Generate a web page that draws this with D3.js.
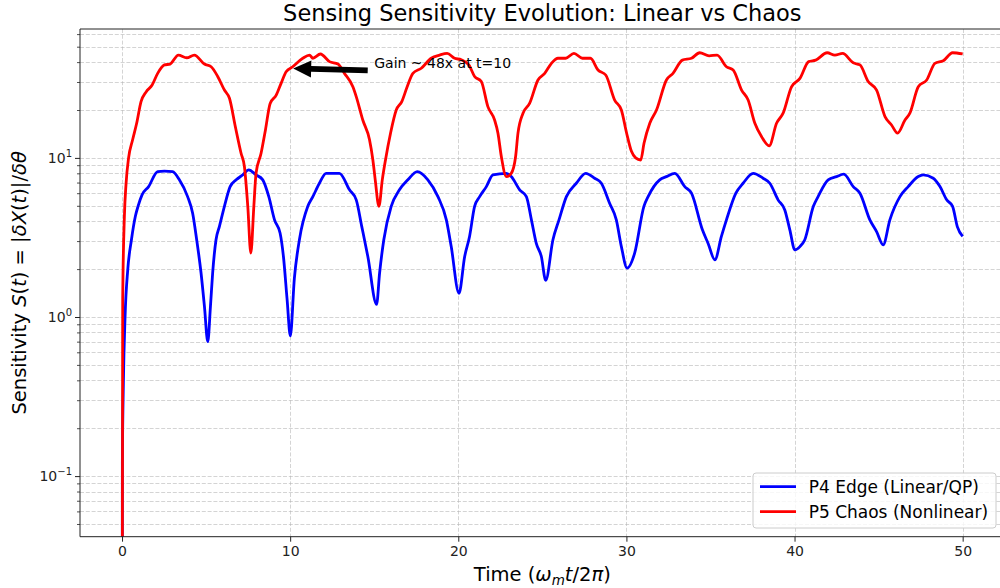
<!DOCTYPE html>
<html>
<head>
<meta charset="utf-8">
<script src="https://cdn.jsdelivr.net/npm/d3@7"></script>
<style>
  body { margin: 0; background: #fff; }
  svg { font-family: "DejaVu Sans", sans-serif; display: block; }
</style>
</head>
<body>
<svg id="chart"></svg>
<script>
// values
const timeP4 = [0, 0.02, 0.08, 0.18, 0.34, 0.56, 0.79, 0.95, 1.19, 1.58, 2.12, 2.52, 3.01, 3.41, 3.9, 4.2, 4.44, 4.7, 4.9, 5.1,
  5.26, 5.39, 5.59, 5.79, 6.09, 6.43, 6.79, 7.18, 7.54, 7.97, 8.37, 8.73, 9.07, 9.4, 9.6, 9.82, 10.01, 10.25, 10.55, 11.05,
  11.35, 11.74, 12.14, 12.93, 13.53, 13.93, 14.26, 14.62, 15.14, 15.32, 15.57, 16.01, 16.5, 17.0, 17.56, 18.19, 18.79, 19.29, 19.58, 20.04,
  20.38, 20.67, 20.97, 21.27, 21.67, 22.06, 22.86, 23.15, 23.65, 24.05, 24.35, 24.64, 24.94, 25.2, 25.63, 25.99, 26.43, 27.02, 27.58, 28.11,
  28.51, 29.0, 29.4, 29.7, 30.04, 30.49, 31.04, 31.29, 31.98, 32.38, 32.88, 33.47, 33.87, 34.52, 34.86, 35.26, 35.65, 35.95, 36.51, 36.94,
  37.54, 38.13, 38.53, 39.02, 39.42, 39.72, 40.02, 40.32, 40.61, 41.12, 41.4, 42.0, 42.5, 42.93, 43.49, 43.89, 44.48, 44.88, 45.27, 45.67,
  46.27, 46.76, 47.36, 47.65, 48.25, 48.65, 49.05, 49.4, 49.68, 50.0];
const sensP4 = [0.001, 0.12, 0.385, 1.0, 1.98, 3.06, 4.28, 4.96, 5.86, 6.6, 8.2, 8.25, 8.2, 7.28, 5.71, 4.49, 3.06, 1.89, 1.17, 0.70,
  1.17, 1.89, 3.06, 3.7, 4.96, 6.6, 7.28, 7.82, 8.41, 7.82, 7.28, 5.71, 4.08, 3.37, 2.4, 1.28, 0.76, 1.75, 3.06, 4.96,
  5.71, 6.93, 8.0, 8.0, 6.3, 5.45, 3.7, 2.4, 1.2, 1.89, 3.06, 4.96, 6.3, 7.28, 8.2, 7.28, 5.71, 4.08, 2.77, 1.41,
  2.4, 3.21, 4.96, 5.71, 6.6, 7.82, 8.0, 7.63, 6.3, 5.71, 4.08, 2.9, 2.4, 1.7, 3.06, 4.08, 5.71, 6.93, 8.0, 7.45,
  6.93, 5.19, 4.08, 2.77, 2.03, 2.52, 4.96, 5.71, 7.28, 7.63, 8.0, 6.6, 6.0, 3.53, 2.9, 2.29, 3.21, 4.08, 6.0, 6.93,
  8.0, 7.45, 6.93, 5.45, 4.71, 3.53, 2.64, 2.77, 3.06, 4.96, 5.71, 7.28, 7.63, 7.9, 6.6, 6.0, 4.08, 3.44, 2.84, 4.08,
  5.71, 6.6, 7.63, 7.82, 7.45, 6.6, 5.45, 4.96, 3.7, 3.21];

const timeP5 = [0, 0.04, 0.14, 0.24, 0.39, 0.63, 0.87, 1.13, 1.43, 1.79, 2.12, 2.52, 2.86, 3.35, 3.85, 4.3, 4.9, 5.3, 5.69, 6.09,
  6.39, 6.74, 7.08, 7.28, 7.48, 7.66, 7.84, 7.97, 8.27, 8.53, 8.81, 9.17, 9.46, 9.76, 10.15, 10.75, 11.15, 11.35, 11.8, 12.34,
  12.84, 13.23, 13.73, 13.93, 14.32, 14.72, 14.92, 15.06, 15.28, 15.48, 15.67, 15.97, 16.31, 16.64, 16.96, 17.3, 17.8, 18.39, 18.89, 19.34,
  19.78, 20.18, 20.63, 20.97, 21.37, 21.76, 22.16, 22.36, 22.56, 22.86, 23.15, 23.41, 23.55, 23.85, 24.24, 24.74, 25.14, 25.54, 25.93, 26.39,
  26.88, 27.38, 27.86, 28.31, 28.77, 29.3, 29.7, 30.0, 30.3, 30.55, 30.85, 31.05, 31.39, 31.79, 32.38, 32.77, 33.33, 33.87, 34.36, 34.92,
  35.39, 35.95, 36.35, 36.85, 37.24, 37.64, 38.04, 38.49, 38.93, 39.32, 39.82, 40.32, 40.84, 41.26, 41.94, 42.4, 42.86, 43.49, 43.89, 44.38,
  44.88, 45.38, 45.77, 46.13, 46.57, 46.86, 47.36, 47.86, 48.35, 48.85, 49.4, 50.0];
const sensP5 = [0.001, 1.3, 4.28, 6.9, 10.0, 13.0, 16.5, 22.6, 26.0, 28.7, 34.0, 38.4, 38.9, 44.3, 42.6, 44.3, 38.9, 37.4, 32.5, 26.7,
  23.7, 15.7, 10.7, 8.8, 4.96, 2.52, 4.96, 8.0, 10.7, 15.0, 22.0, 24.8, 29.4, 34.8, 37.4, 42.3, 44.3, 42.3, 45.0, 40.3,
  38.9, 34.0, 28.0, 24.3, 17.3, 13.0, 9.71, 7.28, 4.96, 7.28, 9.71, 14.3, 20.0, 22.6, 28.0, 34.0, 36.6, 42.3, 44.3, 45.4,
  42.3, 41.4, 38.4, 32.5, 30.2, 21.0, 17.3, 14.3, 10.2, 7.63, 8.0, 10.2, 14.3, 19.1, 22.0, 30.9, 34.0, 39.3, 42.3, 42.3,
  45.4, 42.3, 42.3, 35.7, 33.2, 23.1, 20.0, 14.5, 11.0, 10.0, 9.7, 12.4, 16.5, 20.0, 30.9, 34.0, 41.2, 42.3, 45.8, 43.8,
  44.3, 37.4, 35.7, 26.7, 23.1, 16.5, 13.6, 11.9, 16.5, 19.1, 28.0, 31.6, 40.3, 41.2, 45.8, 44.3, 45.4, 39.6, 38.4, 30.2,
  26.7, 18.2, 16.1, 14.3, 17.3, 19.1, 28.0, 30.9, 39.3, 40.8, 45.8, 45.0];

const xTicks = [0, 10, 20, 30, 40, 50];
const yMajor = [0.1, 1, 10];
const yMinor = [0.05, 0.06, 0.07, 0.08, 0.09, 0.2, 0.3, 0.4, 0.5, 0.6, 0.7, 0.8, 0.9,
  2, 3, 4, 5, 6, 7, 8, 9, 20, 30, 40, 50, 60];
const seriesNames = ["P4 Edge (Linear/QP)", "P5 Chaos (Nonlinear)"];
const seriesColors = ["#0000ff", "#ff0000"];
const annoPoint = [10, 36.5];
const annoText = [15, 36.8];
const annoLabel = "Gain ~ 48x at t=10";

const width = 1000, height = 588;
const plotLeft = 80, plotRight = 1004.7, plotTop = 29, plotBottom = 536.7;

const svg = d3.select("#chart").attr("width", width).attr("height", height);

const x = d3.scaleLinear().domain([-2.5, 52.5]).range([plotLeft, plotRight]);
const y = d3.scaleLog().domain([0.0416, 64.6]).range([plotBottom, plotTop]);

svg.append("defs").append("clipPath").attr("id", "plotclip")
  .append("rect").attr("x", plotLeft).attr("y", plotTop)
  .attr("width", plotRight - plotLeft).attr("height", plotBottom - plotTop);

// grid
const grid = svg.append("g").attr("stroke", "#b0b0b0").attr("stroke-opacity", 0.55)
  .attr("stroke-width", 1).attr("stroke-dasharray", "4,1.8");
grid.selectAll(".gy").data(yMajor.concat(yMinor)).join("line")
  .attr("x1", plotLeft).attr("x2", plotRight)
  .attr("y1", d => Math.round(y(d)) + 0.5).attr("y2", d => Math.round(y(d)) + 0.5);
grid.selectAll(".gx").data(xTicks).join("line")
  .attr("y1", plotTop).attr("y2", plotBottom)
  .attr("x1", d => Math.round(x(d)) + 0.5).attr("x2", d => Math.round(x(d)) + 0.5);

// curves
const line = d3.line().x(d => x(d[0])).y(d => y(d[1])).curve(d3.curveMonotoneX);
const series = [d3.zip(timeP4, sensP4), d3.zip(timeP5, sensP5)];
svg.append("g").attr("clip-path", "url(#plotclip)")
  .selectAll("path").data(series).join("path")
  .attr("d", line)
  .attr("fill", "none")
  .attr("stroke", (d, i) => seriesColors[i])
  .attr("stroke-width", 2.8)
  .attr("stroke-linejoin", "round");

// spines
svg.append("g").attr("stroke", "#222").attr("stroke-width", 1).attr("fill", "none")
  .call(g => g.append("line").attr("x1", plotLeft).attr("x2", plotLeft).attr("y1", plotTop).attr("y2", plotBottom))
  .call(g => g.append("line").attr("x1", plotLeft).attr("x2", plotRight).attr("y1", plotBottom).attr("y2", plotBottom))
  .call(g => g.append("line").attr("x1", plotLeft).attr("x2", plotRight).attr("y1", plotTop).attr("y2", plotTop));

// ticks
const xAxis = svg.append("g").attr("transform", `translate(0,${plotBottom})`)
  .call(d3.axisBottom(x).tickValues(xTicks).tickSize(5).tickPadding(4).tickFormat(d3.format("d")));
xAxis.select(".domain").remove();
xAxis.selectAll("text").attr("font-size", 14).attr("font-family", "DejaVu Sans").attr("fill", "#222");
xAxis.selectAll("line").attr("stroke", "#222");

const yAxis = svg.append("g").attr("transform", `translate(${plotLeft},0)`)
  .call(d3.axisLeft(y).tickValues(yMajor).tickSize(5).tickFormat(""));
yAxis.select(".domain").remove();
yAxis.selectAll("line").attr("stroke", "#222");
const yAxisMinor = svg.append("g").attr("transform", `translate(${plotLeft},0)`)
  .call(d3.axisLeft(y).tickValues(yMinor).tickSize(3).tickFormat(""));
yAxisMinor.select(".domain").remove();
yAxisMinor.selectAll("line").attr("stroke", "#222").attr("stroke-width", 0.8);

svg.append("g").attr("text-anchor", "end").attr("fill", "#222")
  .selectAll("text").data(yMajor).join("text")
  .attr("x", plotLeft - 8).attr("y", d => y(d) + 5)
  .attr("font-size", 14)
  .each(function (d) {
    const t = d3.select(this);
    t.append("tspan").text("10");
    t.append("tspan").attr("font-size", 10).attr("dy", -6)
      .text(String(Math.round(Math.log10(d))).replace("-", "\u2212"));
  });

// labels
svg.append("text").attr("x", (plotLeft + plotRight) / 2).attr("y", 20.5)
  .attr("text-anchor", "middle").attr("font-size", 22.5).text("Sensing Sensitivity Evolution: Linear vs Chaos");

const xl = svg.append("text").attr("x", (plotLeft + plotRight) / 2).attr("y", 581)
  .attr("text-anchor", "middle").attr("font-size", 19.5);
xl.append("tspan").text("Time (");
xl.append("tspan").attr("font-style", "italic").text("\u03c9");
xl.append("tspan").attr("font-style", "italic").attr("font-size", 13.5).attr("dy", 3.5).text("m");
xl.append("tspan").attr("font-style", "italic").attr("dy", -3.5).text("t");
xl.append("tspan").text("/2");
xl.append("tspan").attr("font-style", "italic").text("\u03c0");
xl.append("tspan").text(")");

const yl = svg.append("text").attr("transform", `translate(25.5,${(plotTop + plotBottom) / 2}) rotate(-90)`)
  .attr("text-anchor", "middle").attr("font-size", 19.5);
[["Sensitivity ", false], ["S", true], ["(", false], ["t", true], [") = |", false], ["\u03b4X", true],
 ["(", false], ["t", true], [")|/", false], ["\u03b4\u03b8", true]]
  .forEach(([s, it]) => yl.append("tspan").attr("font-style", it ? "italic" : null).text(s));

// annotation arrow
const tip = [x(annoPoint[0]) + 3, y(annoPoint[1])];
const tx = x(annoText[0]), ty = y(annoText[1]);
const tail = [tx - 6.5, ty + 2.5];
const len = Math.hypot(tail[0] - tip[0], tail[1] - tip[1]);
const u = [(tip[0] - tail[0]) / len, (tip[1] - tail[1]) / len];
const n = [-u[1], u[0]];
const hl = 18, hw = 8.5, sw = 2.9;
const base = [tip[0] - u[0] * hl, tip[1] - u[1] * hl];
const pt = (p, k) => [p[0] + n[0] * k, p[1] + n[1] * k];
svg.append("polygon").attr("fill", "#000")
  .attr("points", [pt(tail, sw), pt(base, sw), pt(base, hw), tip, pt(base, -hw), pt(base, -sw), pt(tail, -sw)]
    .map(p => p.join(",")).join(" "));
svg.append("text").attr("x", tx).attr("y", ty).attr("font-size", 14).text(annoLabel);

// legend
const lg = svg.append("g").attr("transform", "translate(753,473)");
lg.append("rect").attr("width", 243).attr("height", 55).attr("rx", 3)
  .attr("fill", "#fff").attr("fill-opacity", 0.8).attr("stroke", "#cccccc");
seriesNames.forEach((name, i) => {
  const yy = 13.7 + i * 25;
  lg.append("line").attr("x1", 7).attr("x2", 43).attr("y1", yy).attr("y2", yy)
    .attr("stroke", seriesColors[i]).attr("stroke-width", 2.8);
  lg.append("text").attr("x", 55.7).attr("y", yy + 6).attr("font-size", 17).text(name);
});
</script>
</body>
</html>
